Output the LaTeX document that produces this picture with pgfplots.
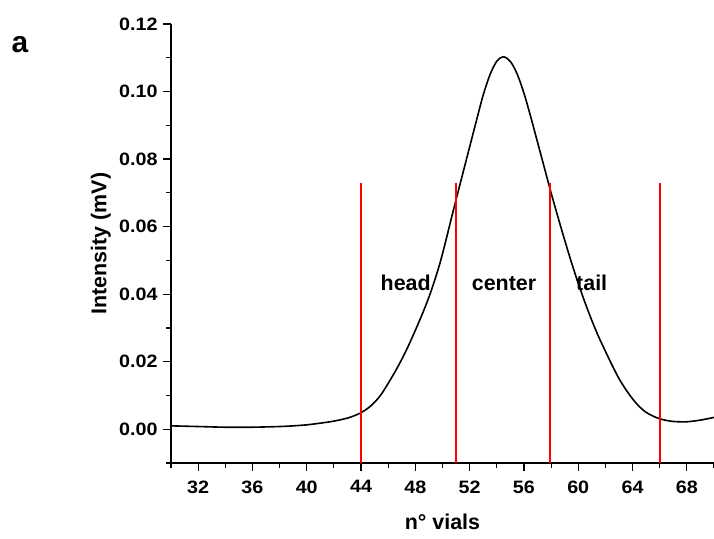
\documentclass[border=0pt]{standalone}
\usepackage{fontspec}
\setmainfont{Liberation Sans}
\newfontfamily\tickfont[FakeStretch=1.1]{Liberation Sans}
\usepackage{pgfplots}
\pgfplotsset{compat=1.18}
\begin{document}
\begin{tikzpicture}
\path[use as bounding box] (-171bp,-76bp) rectangle (543bp,463bp);
\begin{axis}[
  scale only axis, width=543bp, height=439bp,
  at={(0,0)}, anchor=south west,
  xmin=30, xmax=70, ymin=-0.01, ymax=0.12,
  axis x line*=bottom, axis y line*=left,
  axis line style={line width=1.2bp, black},
  xtick={32,36,40,44,48,52,56,60,64,68},
  minor xtick={30,34,38,42,46,50,54,58,62,66,70},
  ytick={0,0.02,0.04,0.06,0.08,0.10,0.12},
  minor ytick={-0.01,0.01,0.03,0.05,0.07,0.09,0.11},
  tick align=outside,
  major tick length=8bp, minor tick length=4.5bp,
  tick style={line width=1.2bp, black},
  /pgf/number format/assume math mode=true,
  yticklabel style={/pgf/number format/.cd, fixed, fixed zerofill, precision=2, /tikz/.cd, xshift=-2bp},
  xticklabel style={yshift=-6bp},
  ticklabel style={font=\tickfont\fontsize{18}{20}\selectfont\bfseries},
  xlabel={n° vials}, ylabel={Intensity (mV)},
  label style={font=\fontsize{21.5}{24}\selectfont\bfseries},
  xlabel style={at={(axis description cs:0.5,-0.1526)}, anchor=base},
  ylabel style={at={(axis description cs:-0.119,0.5)}, anchor=base},
]
\addplot[black, line width=1.6bp, smooth, tension=0.5] coordinates {
 (30.0,0.0010) (32.0,0.0008) (34.0,0.0006) (36.0,0.0006) (38.0,0.0008)
 (39.0,0.0010) (40.0,0.0013) (41.0,0.0018) (42.0,0.0024) (43.0,0.0033)
 (43.5,0.0040) (44.0,0.0049) (44.5,0.0062) (45.0,0.0080) (45.5,0.0104)
 (46.0,0.0136) (46.5,0.0170) (47.0,0.0207) (47.5,0.0248)
 (48.0,0.0293) (48.5,0.0340) (49.0,0.0391)
 (49.4,0.0438) (49.8,0.0490) (50.2,0.0551) (50.6,0.0616) (51.0,0.0680)
 (51.5,0.0758) (52.0,0.0836) (52.5,0.0914) (53.0,0.0990) (53.5,0.1050)
 (54.0,0.1090) (54.48,0.1103)
 (55.0,0.1089) (55.5,0.1052) (56.0,0.0995) (56.5,0.0925) (57.0,0.0850)
 (57.5,0.0775) (58.0,0.0700) (58.5,0.0629) (59.0,0.0560) (59.5,0.0494)
 (60.0,0.0432) (60.5,0.0375) (61.0,0.0322) (61.5,0.0274) (62.0,0.0231)
 (62.5,0.0189) (63.0,0.0150) (63.5,0.0118) (64.0,0.0090) (64.5,0.0067)
 (65.0,0.0050) (65.5,0.0039) (66.0,0.0031) (66.5,0.0026) (67.0,0.0023)
 (67.5,0.0022) (68.0,0.0022) (69.0,0.0027) (70.0,0.0035)
};
\addplot[red, line width=1.8bp] coordinates {(44,-0.01) (44,0.073)};
\addplot[red, line width=1.8bp] coordinates {(51,-0.01) (51,0.073)};
\addplot[red, line width=1.8bp] coordinates {(57.9,-0.01) (57.9,0.073)};
\addplot[red, line width=1.8bp] coordinates {(66,-0.01) (66,0.073)};
\node[font=\fontsize{21.5}{24}\selectfont\bfseries, anchor=base, inner sep=0] at (axis cs:47.29,0.0410) {head};
\node[font=\fontsize{21.5}{24}\selectfont\bfseries, anchor=base, inner sep=0] at (axis cs:54.53,0.0410) {center};
\node[font=\fontsize{21.5}{24}\selectfont\bfseries, anchor=base, inner sep=0] at (axis cs:60.99,0.0410) {tail};
\end{axis}
\node[font=\fontsize{30}{30}\selectfont\bfseries, anchor=base west, inner sep=0] at (-159.6bp,410.7bp) {a};
\end{tikzpicture}
\end{document}
